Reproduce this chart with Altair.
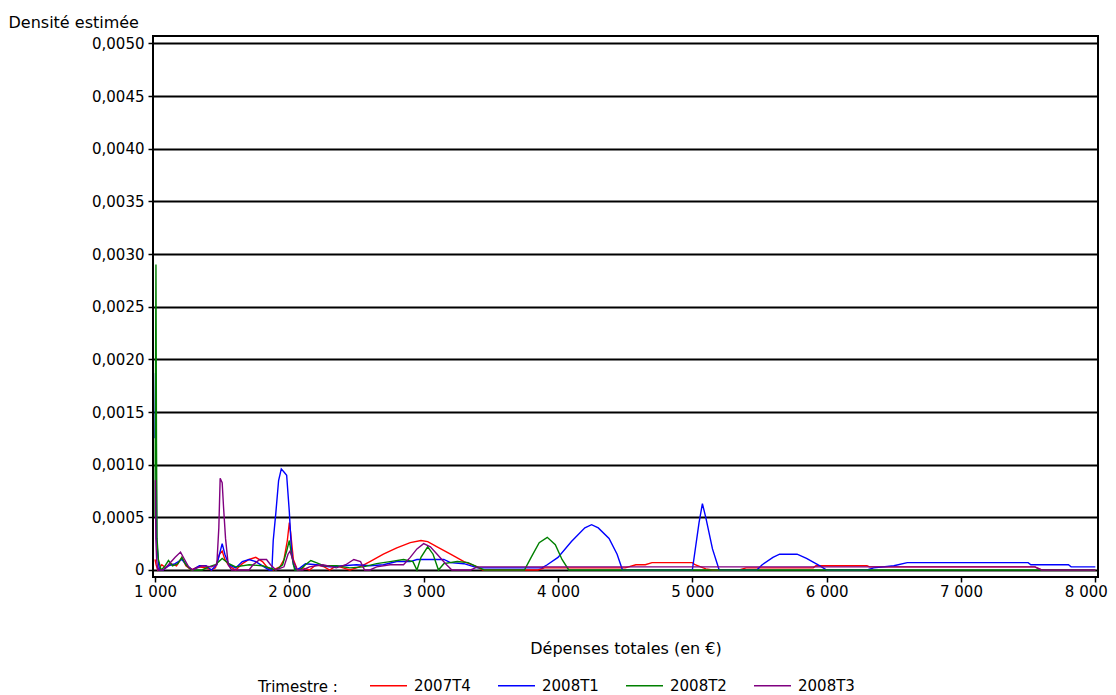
import altair as alt
import pandas as pd

series = ["2007T4", "2008T1", "2008T2", "2008T3"]
colors = ["#ff0000", "#0000ff", "#008000", "#800080"]

red_x = [1000, 1008, 1020, 1050, 1080, 1120, 1160, 1200, 1230, 1270, 1320, 1380, 1420, 1450, 1480, 1500,
         1520, 1550, 1600, 1650, 1700, 1750, 1800, 1840, 1880, 1930, 1960, 1985, 2000, 2010, 2030, 2060,
         2100, 2150, 2200, 2260, 2300, 2350, 2400, 2450, 2500, 2540, 2600, 2700, 2800, 2900, 2980, 3030,
         3100, 3200, 3300, 3380, 3440, 3850, 3900, 4500, 4580, 4650, 4700, 5000, 5020, 5100, 5150, 5350,
         5400, 5900, 5920, 6300, 6320, 7550, 7600, 8000]
red_y = [0.0001, 0.00005, 0.0, 0.00005, 0.00002, 0.00006, 0.00004, 0.00012, 0.00004, 0.0, 0.00003, 0.00002,
         0.0, 0.00002, 0.00015, 0.00018, 0.0001, 0.00004, 0.0, 0.00006, 0.0001, 0.00012, 0.00008, 0.00002,
         0.0, 0.00003, 0.0001, 0.00028, 0.00045, 0.00035, 0.0001, 0.0, 0.00002, 0.0, 0.00005, 0.00003, 0.0,
         0.00004, 0.00002, 0.0, 0.00002, 0.00004, 0.00008, 0.00015, 0.00021, 0.00026, 0.00028, 0.00027,
         0.00022, 0.00015, 0.00008, 0.00004, 0.0, 0.0, 0.00002, 0.00002, 0.00005, 0.00005, 0.00007, 0.00007,
         0.00005, 0.00001, 0.0, 0.0, 0.00002, 0.00002, 0.00004, 0.00004, 0.00003, 0.00003, 0.0, 0.0]

blue_x = [1000, 1004, 1008, 1012, 1022, 1032, 1060, 1100, 1150, 1200, 1240, 1280, 1330, 1380, 1420, 1460,
          1490, 1500, 1520, 1550, 1600, 1650, 1700, 1750, 1800, 1850, 1870, 1880, 1900, 1920, 1940, 1960,
          1980, 2000, 2015, 2030, 2050, 2080, 2120, 2200, 2300, 2400, 2500, 2600, 2700, 2800, 2900, 2950,
          3050, 3150, 3200, 3300, 3400, 3500, 3800, 3880, 3920, 4000, 4100, 4200, 4250, 4300, 4380, 4440,
          4480, 5000, 5050, 5075, 5100, 5150, 5200, 5480, 5520, 5600, 5650, 5780, 5850, 5950, 6000, 6300,
          6350, 6500, 6600, 7500, 7520, 7800, 7820, 8000]
blue_y = [0.00125, 0.00187, 0.00125, 0.0003, 0.00012, 0.0, 0.0, 0.00004, 0.00006, 0.0001, 0.00004, 0.0,
          0.00004, 0.00004, 0.0, 0.00005, 0.0002, 0.00025, 0.00015, 0.00005, 0.00002, 0.00008, 0.0001,
          0.00008, 0.00004, 0.0, 0.0, 0.00028, 0.00055, 0.00085, 0.00096, 0.00093, 0.0009, 0.00055, 0.0002,
          0.00005, 0.0, 0.00002, 0.00006, 0.00005, 0.00003, 0.00004, 0.00005, 0.00004, 0.00005, 0.00008,
          0.00008, 0.0001, 0.0001, 0.0001, 0.00007, 0.00006, 0.00002, 0.00002, 0.00002, 0.00002, 0.00005,
          0.00012, 0.00027, 0.0004, 0.00043, 0.0004, 0.0003, 0.00015, 0.0, 0.0, 0.00045, 0.00063, 0.0005,
          0.0002, 0.0, 0.0, 0.00005, 0.00012, 0.00015, 0.00015, 0.00011, 0.00004, 0.0, 0.0, 0.00002, 0.00004,
          0.00007, 0.00007, 0.00005, 0.00005, 0.00003, 0.00003]

green_x = [1000, 1007, 1011, 1015, 1025, 1045, 1070, 1100, 1130, 1170, 1200, 1230, 1270, 1350, 1400, 1450,
           1500, 1550, 1600, 1700, 1800, 1900, 1950, 1980, 2000, 2015, 2040, 2080, 2120, 2160, 2200, 2260,
           2350, 2450, 2550, 2650, 2750, 2850, 2920, 2950, 2980, 3030, 3070, 3110, 3150, 3250, 3330, 3400,
           3450, 3750, 3800, 3860, 3920, 3980, 4030, 4080, 8000]
green_y = [0.0005, 0.0029, 0.0012, 0.0003, 0.0001, 0.0, 0.00003, 0.00009, 0.00004, 0.00006, 0.00012, 0.00005,
           0.0, 0.0, 0.00003, 0.00005, 0.00011, 0.00006, 0.00003, 0.00005, 0.00004, 0.0, 0.00005, 0.00018,
           0.00028, 0.00015, 0.0, 0.0, 0.00005, 0.00009, 0.00007, 0.00004, 0.00004, 0.00002, 0.00003, 0.00006,
           0.00008, 0.0001, 0.00008, 0.0, 0.00012, 0.00022, 0.00015, 0.0, 0.00006, 0.00008, 0.00007, 0.00003,
           0.0, 0.0, 0.00012, 0.00026, 0.00031, 0.00024, 0.0001, 0.0, 0.0]

purple_x = [1000, 1003, 1006, 1012, 1020, 1060, 1100, 1150, 1190, 1220, 1250, 1280, 1350, 1420, 1460, 1475,
            1485, 1500, 1510, 1525, 1545, 1570, 1700, 1730, 1780, 1830, 1860, 1900, 1960, 1990, 2005, 2030,
            2060, 2100, 2150, 2250, 2350, 2420, 2480, 2530, 2560, 2600, 2650, 2750, 2850, 2900, 2950, 3000,
            3050, 3100, 3170, 3210, 3350, 3400, 7550, 7600, 8000]
purple_y = [0.00085, 0.00085, 0.0003, 0.0001, 0.0, 0.0, 0.00005, 0.00012, 0.00017, 0.0001, 0.00003, 0.0,
            0.00004, 0.00003, 0.00005, 0.0004, 0.00087, 0.00083, 0.0006, 0.0003, 0.00005, 0.0, 0.0, 0.00005,
            0.0001, 0.0001, 0.00005, 0.0, 0.00003, 0.00015, 0.00018, 0.00008, 0.0, 0.0, 0.00003, 0.00005,
            0.00002, 0.00005, 0.0001, 0.00008, 0.0, 0.0, 0.00003, 0.00005, 0.00005, 0.00012, 0.0002, 0.00025,
            0.00022, 0.00015, 0.00005, 0.0, 0.0, 0.00003, 0.00003, 0.0, 0.0]

x_ticks = [1000, 2000, 3000, 4000, 5000, 6000, 7000, 8000]
y_ticks = [0.0, 0.0005, 0.001, 0.0015, 0.002, 0.0025, 0.003, 0.0035, 0.004, 0.0045, 0.005]

rows = []
for name, xs, ys in zip(series, [red_x, blue_x, green_x, purple_x], [red_y, blue_y, green_y, purple_y]):
    for i, (xv, yv) in enumerate(zip(xs, ys)):
        rows.append({"Trimestre": name, "x": xv, "y": yv, "ord": i})
df = pd.DataFrame(rows)

FONT = "DejaVu Sans"
FS = 15
TFS = 16

x_axis = alt.Axis(
    values=x_ticks, title="Dépenses totales (en €)",
    labelExpr="replace(format(datum.value, ','), ',', ' ')",
    labelAlign={"condition": {"test": "datum.value >= 8000", "value": "right"}, "value": "center"},
    labelOffset={"condition": {"test": "datum.value >= 8000", "value": 12}, "value": 0},
    grid=False, domain=False, tickSize=5, tickWidth=1.5, tickColor="#000",
    labelPadding=2, titleY=71, titleBaseline="middle",
)

chart = alt.Chart(df).mark_line(strokeWidth=1.4, clip=True).encode(
    x=alt.X("x:Q", scale=alt.Scale(domain=[985, 8020], nice=False, zero=False), axis=x_axis),
    y=alt.Y("y:Q",
            scale=alt.Scale(domain=[-0.0000665, 0.005071], nice=False, zero=False),
            axis=alt.Axis(values=y_ticks, title="Densité estimée",
                          labelExpr="datum.value == 0 ? '0' : replace(format(datum.value, '.4f'), '.', ',')",
                          grid=True, gridColor="#000", gridWidth=2, domain=False,
                          tickSize=5, tickWidth=1.5, tickColor="#000", labelPadding=4,
                          titleAngle=0, titleAlign="left", titleBaseline="alphabetic",
                          titleX=-145, titleY=-9)),
    color=alt.Color("Trimestre:N",
                    scale=alt.Scale(domain=series, range=colors),
                    legend=alt.Legend(orient="none", legendX=105, legendY=630, direction="horizontal",
                                      title="Trimestre :", titleOrient="left", titleAnchor="middle",
                                      titleBaseline="top", symbolType="stroke",
                                      symbolSize=1369, symbolStrokeWidth=1.5, labelOffset=6,
                                      columnPadding=24, titlePadding=31)),
    order="ord:Q",
).properties(
    width=945, height=541,
    autosize=alt.AutoSizeParams(type="none"),
    padding={"left": 145, "top": 28, "right": 10, "bottom": 118},
).configure_view(
    stroke="#000", strokeWidth=2
).configure_axis(
    labelFont=FONT, titleFont=FONT, labelFontSize=FS, titleFontSize=TFS,
    labelColor="#000", titleColor="#000", titleFontWeight="normal"
).configure_legend(
    labelFont=FONT, titleFont=FONT, labelFontSize=FS, titleFontSize=FS,
    labelColor="#000", titleColor="#000", titleFontWeight="normal"
)

chart.save("out.html", embed_options={"renderer": "svg", "actions": False})
